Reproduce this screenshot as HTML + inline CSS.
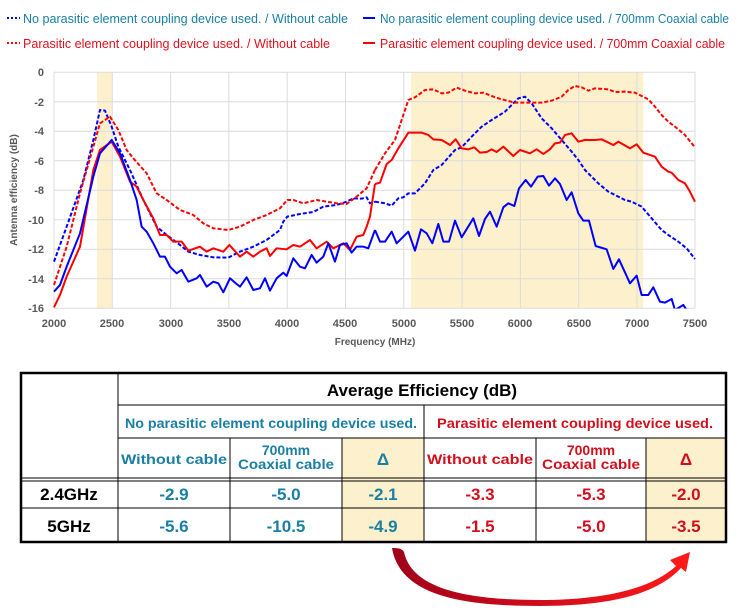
<!DOCTYPE html>
<html><head><meta charset="utf-8"><style>
body{margin:0;background:#fff;}
svg{display:block;font-family:"Liberation Sans Narrow","Liberation Sans",sans-serif;}
</style></head><body>
<svg width="750" height="611" viewBox="0 0 750 611">
<g font-size="13">
<line x1="7" y1="18" x2="20" y2="18" stroke="#0000ff" stroke-width="2" stroke-dasharray="2,2"/>
<text x="23" y="23" fill="#1a7fa3" textLength="325" lengthAdjust="spacingAndGlyphs">No parasitic element coupling device used. / Without cable</text>
<line x1="363" y1="18" x2="375" y2="18" stroke="#0000ff" stroke-width="2"/>
<text x="380" y="23" fill="#1a7fa3" textLength="349" lengthAdjust="spacingAndGlyphs">No parasitic element coupling device used. / 700mm Coaxial cable</text>
<line x1="7" y1="43" x2="20" y2="43" stroke="#ff0000" stroke-width="2" stroke-dasharray="2,2"/>
<text x="23" y="48" fill="#e0101e" textLength="307" lengthAdjust="spacingAndGlyphs">Parasitic element coupling device used. / Without cable</text>
<line x1="363" y1="43" x2="375" y2="43" stroke="#ff0000" stroke-width="2"/>
<text x="380" y="48" fill="#e0101e" textLength="345" lengthAdjust="spacingAndGlyphs">Parasitic element coupling device used. / 700mm Coaxial cable</text>
</g>
<rect x="97" y="72" width="15" height="236" fill="#fdf0cc"/>
<rect x="411" y="72" width="232" height="236" fill="#fdf0cc"/>
<g stroke="#dcdcdc" stroke-width="1">
<line x1="54" y1="72.3" x2="695" y2="72.3"/><line x1="54" y1="101.8" x2="695" y2="101.8"/>
<line x1="54" y1="131.3" x2="695" y2="131.3"/><line x1="54" y1="160.8" x2="695" y2="160.8"/>
<line x1="54" y1="190.3" x2="695" y2="190.3"/><line x1="54" y1="219.8" x2="695" y2="219.8"/>
<line x1="54" y1="249.3" x2="695" y2="249.3"/><line x1="54" y1="278.8" x2="695" y2="278.8"/>
<line x1="54" y1="308.3" x2="695" y2="308.3"/>
<line x1="54" y1="72" x2="54" y2="308"/><line x1="112.3" y1="72" x2="112.3" y2="308"/>
<line x1="170.6" y1="72" x2="170.6" y2="308"/><line x1="228.9" y1="72" x2="228.9" y2="308"/>
<line x1="287.2" y1="72" x2="287.2" y2="308"/><line x1="345.5" y1="72" x2="345.5" y2="308"/>
<line x1="403.8" y1="72" x2="403.8" y2="308"/><line x1="462.1" y1="72" x2="462.1" y2="308"/>
<line x1="520.4" y1="72" x2="520.4" y2="308"/><line x1="578.7" y1="72" x2="578.7" y2="308"/>
<line x1="637" y1="72" x2="637" y2="308"/><line x1="695" y1="72" x2="695" y2="308"/>
</g>
<g font-family="Liberation Sans,sans-serif" font-size="11" font-weight="bold" fill="#595959" text-anchor="end">
<text x="44" y="76">0</text><text x="44" y="106">-2</text><text x="44" y="135">-4</text>
<text x="44" y="165">-6</text><text x="44" y="194">-8</text><text x="44" y="224">-10</text>
<text x="44" y="253">-12</text><text x="44" y="283">-14</text><text x="44" y="312">-16</text>
</g>
<g font-family="Liberation Sans,sans-serif" font-size="11" font-weight="bold" fill="#595959" text-anchor="middle">
<text x="54" y="327">2000</text><text x="112" y="327">2500</text><text x="171" y="327">3000</text>
<text x="229" y="327">3500</text><text x="287" y="327">4000</text><text x="345" y="327">4500</text>
<text x="404" y="327">5000</text><text x="462" y="327">5500</text><text x="520" y="327">6000</text>
<text x="579" y="327">6500</text><text x="637" y="327">7000</text><text x="695" y="327">7500</text>
<text x="375" y="345" font-size="10">Frequency (MHz)</text>
<text transform="translate(17,190) rotate(-90)" font-size="10">Antenna efficiency (dB)</text>
</g>
<svg x="0" y="0" width="750" height="308.5" overflow="hidden">
<g transform="translate(0,60) scale(0.3333)" fill="none" stroke-width="2" stroke-linejoin="round">
<polyline vector-effect="non-scaling-stroke" stroke="#0000ff" stroke-dasharray="4,2" points="162,605 200,500 250,360 280,240 300,150 315,152 335,200 355,260 390,330 430,420 470,500 500,525 540,555 565,575 600,585 640,592 685,593 700,585 720,575 760,560 800,540 840,510 850,485 862,470 900,462 940,456 970,440 1010,435 1040,425 1060,415 1085,416 1100,412 1110,430 1125,425"/>
<polyline vector-effect="non-scaling-stroke" stroke="#ff0000" stroke-dasharray="4,2" points="162,675 200,560 240,400 280,260 300,190 330,170 355,210 380,270 400,295 440,340 470,400 500,420 540,450 580,465 610,490 640,505 685,510 720,500 760,480 800,465 840,445 862,420 880,420 910,430 950,420 980,425 1010,430 1040,432 1070,410 1100,385 1125,330"/>
<polyline vector-effect="non-scaling-stroke" stroke="#ff0000" points="162,742 180,705 200,650 240,560 280,330 300,270 335,245 360,290 390,365 410,380 430,420 460,475 480,525 500,525 520,545 545,545 565,572 600,560 620,575 640,565 670,575 688,555 720,590 740,575 760,590 780,575 800,565 810,588 830,565 860,568 880,555 900,560 930,540 950,565 980,545 1000,565 1020,555 1030,550 1050,570 1070,530 1090,525 1100,500 1110,470 1125,372"/>
<polyline vector-effect="non-scaling-stroke" stroke="#0000ff" points="162,695 180,675 200,620 240,520 280,350 300,280 335,240 360,280 390,360 410,420 425,500 440,515 460,550 480,590 495,590 510,620 530,640 545,630 565,665 590,655 600,645 620,680 640,665 655,670 670,697 690,655 710,672 720,680 740,652 760,690 780,685 795,655 810,692 830,655 850,638 860,648 880,595 900,620 915,625 935,585 950,608 970,590 985,550 1005,605 1020,555 1040,550 1055,578 1070,560 1090,560 1105,565 1125,510"/>
</g>
<g transform="translate(375,60) scale(0.3333)" fill="none" stroke-width="2" stroke-linejoin="round">
<polyline vector-effect="non-scaling-stroke" stroke="#0000ff" stroke-dasharray="4,2" points="0,425 30,430 50,437 70,415 85,412 100,400 120,400 150,370 175,330 200,315 240,270 260,262 290,230 320,200 350,180 390,155 430,115 450,110 470,130 500,175 530,205 560,240 590,275 610,300 630,330 650,350 670,370 700,395 720,405 750,420 770,425 800,440 830,475 860,510 880,525 910,545 935,565 960,597"/>
<polyline vector-effect="non-scaling-stroke" stroke="#ff0000" stroke-dasharray="4,2" points="0,330 30,280 60,240 80,180 100,120 120,112 150,90 175,88 200,100 220,98 245,83 270,92 300,100 325,98 350,108 380,118 420,128 460,128 500,128 530,122 560,110 580,90 600,78 620,82 640,92 660,85 700,88 720,96 750,95 780,98 800,108 820,118 840,140 860,165 880,185 900,200 930,225 960,262"/>
<polyline vector-effect="non-scaling-stroke" stroke="#ff0000" points="0,372 15,368 35,312 50,300 70,265 100,218 140,218 160,225 175,238 200,240 225,255 242,238 260,265 280,268 298,262 315,278 335,276 350,268 365,276 385,260 415,288 435,270 465,280 485,268 505,282 525,268 540,250 555,248 570,225 590,220 610,245 630,240 660,240 680,238 715,255 730,245 765,265 785,253 805,278 840,290 860,320 880,335 890,338 910,360 930,370 945,395 960,425"/>
<polyline vector-effect="non-scaling-stroke" stroke="#0000ff" points="0,510 15,545 30,545 50,515 65,550 100,515 120,572 138,508 155,520 172,550 190,492 205,545 222,545 240,482 260,532 295,475 312,528 330,477 345,455 365,500 385,442 400,430 418,438 432,385 452,360 468,380 488,350 505,348 522,377 540,355 555,372 575,420 590,397 610,460 625,482 642,482 662,558 695,568 715,627 732,598 765,670 785,647 800,705 820,705 835,682 855,725 870,728 890,717 900,750 925,735 935,750"/>
</g>
</svg>
<g font-family="Liberation Sans,sans-serif" font-weight="bold">
<rect x="342" y="438" width="82" height="104" fill="#fdf0cc"/>
<rect x="646" y="438" width="81" height="104" fill="#fdf0cc"/>
<g stroke="#000" stroke-width="1">
<line x1="118" y1="405" x2="727" y2="405"/>
<line x1="118" y1="438" x2="727" y2="438"/>
<line x1="20" y1="478" x2="727" y2="478"/>
<line x1="20" y1="481" x2="727" y2="481"/>
<line x1="20" y1="508" x2="727" y2="508"/>
<line x1="118" y1="372" x2="118" y2="542"/>
<line x1="424" y1="405" x2="424" y2="542"/>
<line x1="230" y1="438" x2="230" y2="542"/><line x1="342" y1="438" x2="342" y2="542"/>
<line x1="536" y1="438" x2="536" y2="542"/><line x1="646" y1="438" x2="646" y2="542"/>
</g>
<rect x="21" y="373" width="705" height="169" fill="none" stroke="#000" stroke-width="2.5"/>
<text x="422" y="396" font-size="17" text-anchor="middle" fill="#000">Average Efficiency (dB)</text>
<g font-size="14" text-anchor="middle" fill="#1a7fa3">
<text x="271" y="428" textLength="292" lengthAdjust="spacingAndGlyphs">No parasitic element coupling device used.</text>
<text x="174" y="464" textLength="106" lengthAdjust="spacingAndGlyphs">Without cable</text>
<text x="286" y="455">700mm</text>
<text x="286" y="469" textLength="96" lengthAdjust="spacingAndGlyphs">Coaxial cable</text>
<text x="383" y="465" font-size="17">Δ</text>
</g>
<g font-size="14" text-anchor="middle" fill="#d0101e">
<text x="575" y="428" textLength="276" lengthAdjust="spacingAndGlyphs">Parasitic element coupling device used.</text>
<text x="480" y="464" textLength="106" lengthAdjust="spacingAndGlyphs">Without cable</text>
<text x="591" y="455">700mm</text>
<text x="591" y="469" textLength="98" lengthAdjust="spacingAndGlyphs">Coaxial cable</text>
<text x="686" y="465" font-size="17">Δ</text>
</g>
<g font-size="17" text-anchor="middle">
<text x="69" y="500" fill="#000">2.4GHz</text><text x="69" y="532" fill="#000">5GHz</text>
<g fill="#1a7fa3">
<text x="174" y="500">-2.9</text><text x="286" y="500">-5.0</text><text x="383" y="500">-2.1</text>
<text x="174" y="532">-5.6</text><text x="286" y="532">-10.5</text><text x="383" y="532">-4.9</text>
</g>
<g fill="#d0101e">
<text x="480" y="500">-3.3</text><text x="591" y="500">-5.3</text><text x="686" y="500">-2.0</text>
<text x="480" y="532">-1.5</text><text x="591" y="532">-5.0</text><text x="686" y="532">-3.5</text>
</g>
</g>
</g>
<defs><linearGradient id="ag" x1="0" x2="1"><stop offset="0" stop-color="#a0001a"/><stop offset="1" stop-color="#ff1a1a"/></linearGradient></defs>
<path d="M392,548 C397,548 402,548 404,552 C412,590 470,600 540,600 C600,600 650,590 676,566 L670,560 L690,552 L686,572 L681,568 C655,596 605,606 540,606 C460,606 400,595 392,548 Z" fill="url(#ag)"/>
</svg>
</body></html>
